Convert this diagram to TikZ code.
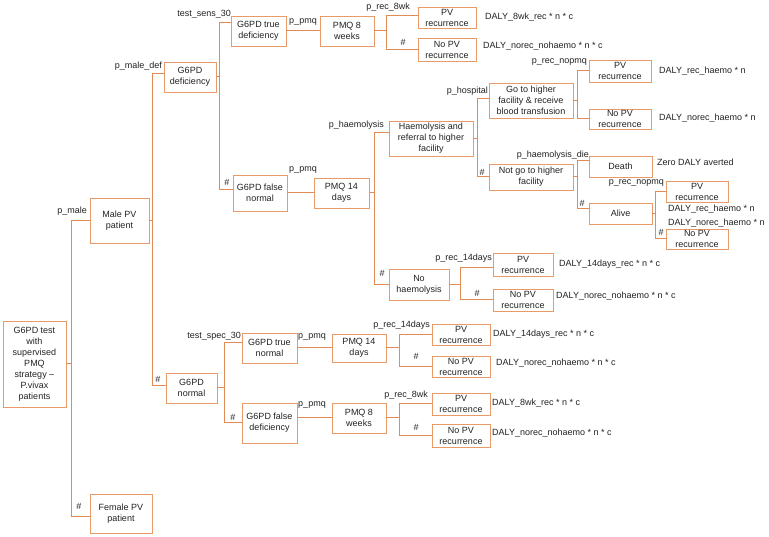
\documentclass[tikz,border=0pt]{standalone}
\usepackage{fontspec}
\setmainfont{Liberation Sans}
\definecolor{ln}{RGB}{226,139,84}
\definecolor{bx}{RGB}{232,155,105}
\definecolor{tx}{RGB}{34,34,34}
\tikzset{
  box/.style={draw=bx, line width=0.95pt, inner sep=0pt, align=center, text=tx,
              font=\fontsize{9}{11}\selectfont},
  lbl/.style={inner sep=0pt, text=tx, font=\fontsize{9}{11}\selectfont},
  conn/.style={draw=ln, line width=1pt}
}
\begin{document}
\begin{tikzpicture}[x=1pt,y=-1pt]
\useasboundingbox (0,0) rectangle (769,537);
% boxes
\node[box,minimum width=63,minimum height=86] (root) at (34.5,364) {G6PD test\\with\\supervised\\PMQ\\strategy –\\P.vivax\\patients};
\node[box,minimum width=59,minimum height=45] (male) at (119.5,220.5) {Male PV\\patient};
\node[box,minimum width=62,minimum height=39] (female) at (121,513.5) {Female PV\\patient};
\node[box,minimum width=52,minimum height=30] (gdef) at (190,77) {G6PD\\deficiency};
\node[box,minimum width=51,minimum height=30] (gnorm) at (191.5,388) {G6PD\\normal};
\node[box,minimum width=55,minimum height=30] (tdef) at (258.5,31) {G6PD true\\deficiency};
\node[box,minimum width=54,minimum height=30] (pmq8) at (347,31) {PMQ 8\\weeks};
\node[box,minimum width=58,minimum height=21] (pv1) at (447,17.5) {PV\\recurrence};
\node[box,minimum width=58,minimum height=23] (npv1) at (447,49.5) {No PV\\recurrence};
\node[box,minimum width=54,minimum height=36] (fnorm) at (260,193) {G6PD false\\normal};
\node[box,minimum width=55,minimum height=30] (pmq14) at (341.5,193) {PMQ 14\\days};
\node[box,minimum width=84,minimum height=35] (haem) at (431,138.5) {Haemolysis and\\referral to higher\\facility};
\node[box,minimum width=60,minimum height=31] (nohaem) at (419,284.5) {No\\haemolysis};
\node[box,minimum width=84,minimum height=35] (go) at (531,100.5) {Go to higher\\facility \& receive\\blood transfusion};
\node[box,minimum width=84,minimum height=26] (notgo) at (531,177) {Not go to higher\\facility};
\node[box,minimum width=62,minimum height=22] (pv2) at (620,71) {PV\\recurrence};
\node[box,minimum width=62,minimum height=20] (npv2) at (620,119) {No PV\\recurrence};
\node[box,minimum width=63,minimum height=21] (death) at (620.5,166.5) {Death};
\node[box,minimum width=63,minimum height=21] (alive) at (620.5,213.5) {Alive};
\node[box,minimum width=62,minimum height=21] (pv3) at (697,191.5) {PV\\recurrence};
\node[box,minimum width=62,minimum height=20] (npv3) at (697,239) {No PV\\recurrence};
\node[box,minimum width=60,minimum height=23] (pv4) at (523,264.5) {PV\\recurrence};
\node[box,minimum width=60,minimum height=22] (npv4) at (523,300) {No PV\\recurrence};
\node[box,minimum width=55,minimum height=30] (tnorm) at (269.5,348) {G6PD true\\normal};
\node[box,minimum width=55,minimum height=40] (fdef) at (269.5,423) {G6PD false\\deficiency};
\node[box,minimum width=54,minimum height=28] (pmq14b) at (359,348) {PMQ 14\\days};
\node[box,minimum width=54,minimum height=30] (pmq8b) at (359,418) {PMQ 8\\weeks};
\node[box,minimum width=58,minimum height=21] (pv5) at (461,334.5) {PV\\recurrence};
\node[box,minimum width=58,minimum height=21] (npv5) at (461,366.5) {No PV\\recurrence};
\node[box,minimum width=58,minimum height=22] (pv6) at (461,404) {PV\\recurrence};
\node[box,minimum width=58,minimum height=23] (npv6) at (461,435.5) {No PV\\recurrence};
% junctions
\coordinate (jA) at ([xshift=5pt]root.east);
\coordinate (jB) at ([xshift=3pt]male.east);
\coordinate (jC) at ([xshift=3pt]gdef.east);
\coordinate (jD) at ([xshift=12pt]pmq8.east);
\coordinate (jE) at ([xshift=5pt]pmq14.east);
\coordinate (jF) at ([xshift=4pt]haem.east);
\coordinate (jG) at ([xshift=4pt]go.east);
\coordinate (jH) at ([xshift=4pt]notgo.east);
\coordinate (jI) at ([xshift=3pt]alive.east);
\coordinate (jJ) at ([xshift=11pt]nohaem.east);
\coordinate (jK) at ([xshift=7pt]gnorm.east);
\coordinate (jL) at ([xshift=13pt]pmq14b.east);
\coordinate (jM) at ([xshift=13pt]pmq8b.east);
% connectors
\draw[conn] (root.east) -- (jA);
\draw[conn] (jA) |- (male.west);
\draw[conn] (jA) |- ([yshift=-3pt]female.west);
\draw[conn] (male.east) -- (jB);
\draw[conn] (jB) |- ([yshift=3pt]gdef.west);
\draw[conn] (jB) |- ([yshift=2pt]gnorm.west);
\draw[conn] (gdef.east) -- (jC);
\draw[conn] (jC) |- ([yshift=8pt]tdef.west);
\draw[conn] (jC) |- ([yshift=3pt]fnorm.west);
\draw[conn] (tdef.east) -- (pmq8.west);
\draw[conn] (pmq8.east) -- (jD);
\draw[conn] (jD) |- ([yshift=1.5pt]pv1.west);
\draw[conn] (jD) |- (npv1.west);
\draw[conn] (fnorm.east) -- (pmq14.west);
\draw[conn] (pmq14.east) -- (jE);
\draw[conn] (jE) |- ([yshift=5.5pt]haem.west);
\draw[conn] (jE) |- (nohaem.west);
\draw[conn] (haem.east) -- (jF);
\draw[conn] (jF) |- ([yshift=1.5pt]go.west);
\draw[conn] (jF) |- (notgo.west);
\draw[conn] (go.east) -- (jG);
\draw[conn] (jG) |- (pv2.west);
\draw[conn] (jG) |- (npv2.west);
\draw[conn] (notgo.east) -- (jH);
\draw[conn] (jH) |- ([yshift=5.5pt]death.west);
\draw[conn] (jH) |- ([yshift=4.5pt]alive.west);
\draw[conn] (alive.east) -- (jI);
\draw[conn] (jI) |- (pv3.west);
\draw[conn] (jI) |- (npv3.west);
\draw[conn] (nohaem.east) -- (jJ);
\draw[conn] (jJ) |- ([yshift=-3.5pt]pv4.west);
\draw[conn] (jJ) |- (npv4.west);
\draw[conn] (gnorm.east) -- (jK);
\draw[conn] (jK) |- ([yshift=5pt]tnorm.west);
\draw[conn] (jK) |- (fdef.west);
\draw[conn] (tnorm.east) -- (pmq14b.west);
\draw[conn] (pmq14b.east) -- (jL);
\draw[conn] (jL) |- (pv5.west);
\draw[conn] (jL) |- (npv5.west);
\draw[conn] ([yshift=5pt]fdef.east) -- (pmq8b.west);
\draw[conn] (pmq8b.east) -- (jM);
\draw[conn] (jM) |- (pv6.west);
\draw[conn] (jM) |- (npv6.west);
% labels
\node[lbl,anchor=east] (l1) at (87,211) {p\_male};
\node[lbl] (h1) at (79,506) {\#};
\node[lbl,anchor=east] (l2) at (162,66) {p\_male\_def};
\node[lbl] (h2) at (158,379) {\#};
\node[lbl,anchor=east] (l3) at (231,14) {test\_sens\_30};
\node[lbl] (h3) at (227,182) {\#};
\node[lbl] (l4) at (303,22) {p\_pmq};
\node[lbl,anchor=east] (l5) at (410,7) {p\_rec\_8wk};
\node[lbl] (h4) at (403,42) {\#};
\node[lbl,anchor=west] (d1) at (485,17) {DALY\_8wk\_rec * n * c};
\node[lbl,anchor=west] (d2) at (483,46) {DALY\_norec\_nohaemo * n * c};
\node[lbl] (l6) at (303,170) {p\_pmq};
\node[lbl,anchor=east] (l7) at (384,125) {p\_haemolysis};
\node[lbl,anchor=east] (l8) at (488,91) {p\_hospital};
\node[lbl] (h5) at (482,172) {\#};
\node[lbl,anchor=east] (l9) at (587,62) {p\_rec\_nopmq};
\node[lbl,anchor=west] (d3) at (659,71) {DALY\_rec\_haemo * n};
\node[lbl,anchor=west] (d4) at (659,118) {DALY\_norec\_haemo * n};
\node[lbl,anchor=east] (l10) at (589,155) {p\_haemolysis\_die};
\node[lbl,anchor=west] (d5) at (657,162) {Zero DALY averted};
\node[lbl] (h6) at (582,203) {\#};
\node[lbl,anchor=east] (l11) at (664,183) {p\_rec\_nopmq};
\node[lbl,anchor=west] (d6) at (668,209) {DALY\_rec\_haemo * n};
\node[lbl,anchor=west] (d7) at (668,223) {DALY\_norec\_haemo * n};
\node[lbl] (h7) at (661,232) {\#};
\node[lbl] (h8) at (382,273) {\#};
\node[lbl,anchor=east] (l12) at (492,258) {p\_rec\_14days};
\node[lbl,anchor=west] (d8) at (559,264) {DALY\_14days\_rec * n * c};
\node[lbl] (h9) at (477,293) {\#};
\node[lbl,anchor=west] (d9) at (556,296) {DALY\_norec\_nohaemo * n * c};
\node[lbl,anchor=east] (l13) at (241,336) {test\_spec\_30};
\node[lbl] (h10) at (233,417) {\#};
\node[lbl] (l14) at (312,337) {p\_pmq};
\node[lbl,anchor=east] (l15) at (430,325) {p\_rec\_14days};
\node[lbl,anchor=west] (d10) at (493,334) {DALY\_14days\_rec * n * c};
\node[lbl] (h11) at (416,356) {\#};
\node[lbl,anchor=west] (d11) at (496,363) {DALY\_norec\_nohaemo * n * c};
\node[lbl] (l16) at (312,405) {p\_pmq};
\node[lbl,anchor=east] (l17) at (428,395) {p\_rec\_8wk};
\node[lbl,anchor=west] (d12) at (492,403) {DALY\_8wk\_rec * n * c};
\node[lbl] (h12) at (416,427) {\#};
\node[lbl,anchor=west] (d13) at (492,433) {DALY\_norec\_nohaemo * n * c};
\end{tikzpicture}
\end{document}
